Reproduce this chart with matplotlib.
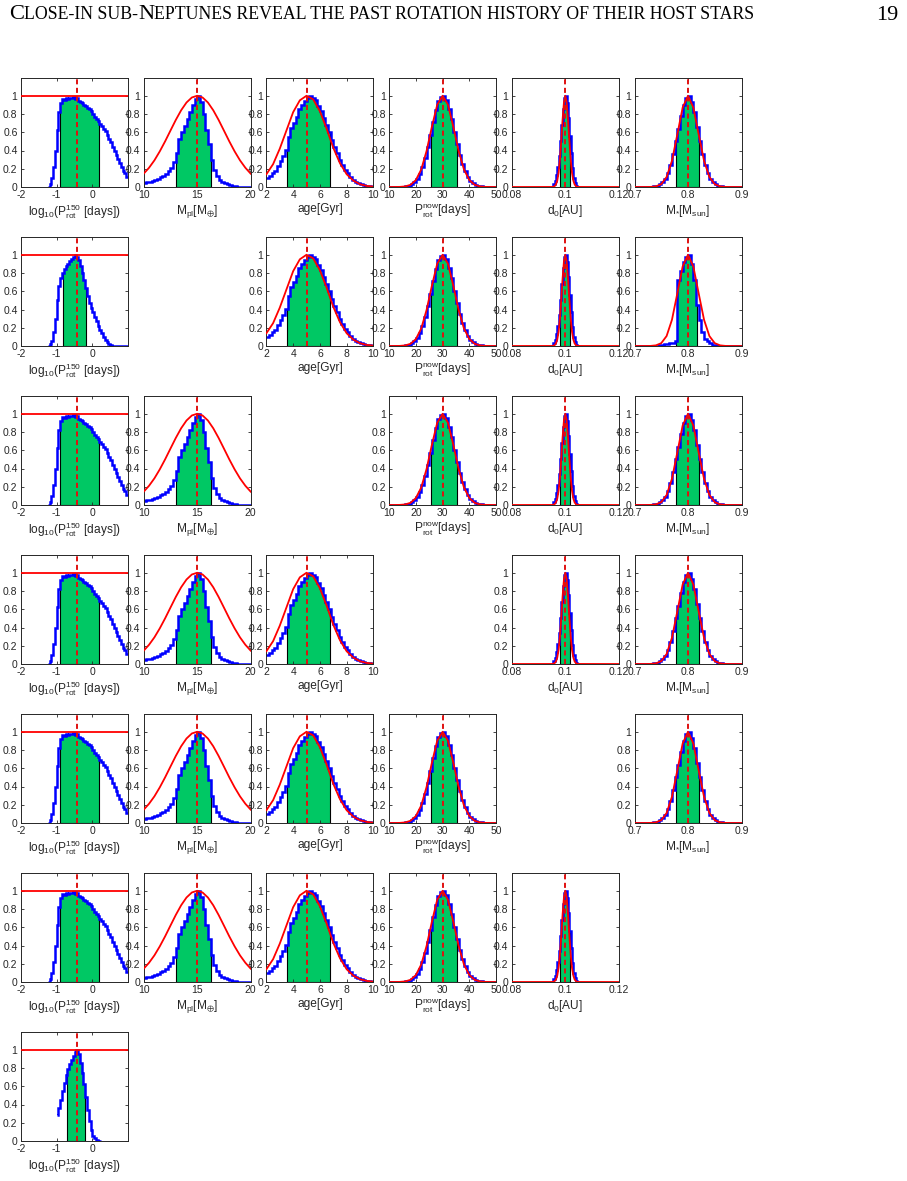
import numpy as np
from matplotlib import pyplot as plt
from matplotlib.offsetbox import TextArea, HPacker, AnchoredOffsetbox
from matplotlib.ticker import FormatStrFormatter

plt.rcParams['font.family'] = ['Liberation Sans', 'DejaVu Sans']
plt.rcParams['axes.unicode_minus'] = False

# ---- posterior histograms (normalised to peak = 1) ----
logp_edges = np.linspace(-1.25, 1.0, 46)
logp_hist = [0.0, 0.03, 0.10, 0.22, 0.40, 0.62, 0.82, 0.92, 0.96, 0.95,
             0.97, 0.96, 0.98, 0.97, 0.99, 0.96, 0.97, 0.94, 0.93, 0.92,
             0.90, 0.89, 0.87, 0.85, 0.83, 0.80, 0.77, 0.75, 0.72, 0.69,
             0.67, 0.64, 0.61, 0.57, 0.53, 0.49, 0.44, 0.40, 0.35, 0.31,
             0.26, 0.22, 0.18, 0.15, 0.11]
logp2_hist = [0.0, 0.02, 0.06, 0.15, 0.30, 0.50, 0.66, 0.75, 0.80, 0.84,
              0.88, 0.90, 0.93, 0.95, 0.98, 1.0, 0.98, 0.94, 0.88, 0.80,
              0.72, 0.64, 0.55, 0.47, 0.42, 0.37, 0.32, 0.27, 0.22, 0.18,
              0.14, 0.10, 0.07, 0.04, 0.02, 0.01, 0.005, 0.002, 0.0, 0.0,
              0.0, 0.0, 0.0, 0.0, 0.0]
logp7_edges = np.linspace(-1.0, 0.25, 26)
logp7_hist = [0.28, 0.36, 0.45, 0.55, 0.64, 0.72, 0.79, 0.84, 0.89, 0.93,
              0.97, 1.0, 0.95, 0.86, 0.75, 0.62, 0.48, 0.34, 0.22, 0.12,
              0.06, 0.03, 0.01, 0.005, 0.0]

mpl_edges = np.linspace(10, 20, 41)
mpl_hist = [0.04, 0.05, 0.06, 0.07, 0.08, 0.09, 0.11, 0.12, 0.14, 0.17,
            0.21, 0.27, 0.37, 0.53, 0.60, 0.67, 0.74, 0.82, 0.90, 0.96,
            1.0, 0.93, 0.80, 0.63, 0.47, 0.30, 0.19, 0.12, 0.08, 0.06,
            0.04, 0.03, 0.02, 0.015, 0.01, 0.005, 0.0, 0.0, 0.0, 0.0]

age_edges = np.linspace(2, 10, 41)
age_hist = [0.10, 0.12, 0.15, 0.18, 0.23, 0.28, 0.34, 0.41, 0.55, 0.65,
            0.70, 0.77, 0.86, 0.90, 0.94, 0.97, 1.0, 0.98, 0.95, 0.89,
            0.83, 0.76, 0.68, 0.60, 0.52, 0.44, 0.37, 0.30, 0.24, 0.19,
            0.15, 0.11, 0.08, 0.06, 0.04, 0.03, 0.02, 0.012, 0.007, 0.004]

pnow_edges = np.linspace(10, 50, 41)
pnow_hist = [0.0, 0.0, 0.0, 0.0, 0.002, 0.004, 0.008, 0.015, 0.03, 0.05,
             0.09, 0.14, 0.22, 0.32, 0.44, 0.57, 0.71, 0.84, 0.94, 0.99,
             1.0, 0.95, 0.86, 0.74, 0.60, 0.47, 0.35, 0.25, 0.17, 0.11,
             0.07, 0.045, 0.027, 0.016, 0.009, 0.005, 0.003, 0.001, 0.0, 0.0]

d0_edges = np.linspace(0.095, 0.105, 21)
d0_hist = [0.0, 0.03, 0.07, 0.13, 0.22, 0.34, 0.50, 0.68, 0.85, 0.97,
           1.0, 0.92, 0.76, 0.56, 0.37, 0.21, 0.10, 0.04, 0.015, 0.0]

mstar_edges = np.linspace(0.7, 0.9, 41)
mstar_hist = [0, 0, 0, 0, 0, 0.002, 0.004, 0.008, 0.015, 0.03,
              0.05, 0.09, 0.15, 0.24, 0.36, 0.50, 0.64, 0.78, 0.90, 0.98,
              1.0, 0.93, 0.82, 0.66, 0.50, 0.36, 0.24, 0.15, 0.09, 0.05,
              0.03, 0.015, 0.008, 0.004, 0.002, 0, 0, 0, 0, 0]
mstar2_hist = [0, 0, 0, 0, 0, 0, 0, 0, 0.005, 0.01,
               0.015, 0.02, 0.025, 0.03, 0.03, 0.05, 0.72, 0.82, 0.92, 0.98,
               1.0, 0.90, 0.72, 0.45, 0.28, 0.15, 0.08, 0.05, 0.03, 0.015,
               0.008, 0.003, 0, 0, 0, 0, 0, 0, 0, 0]

# ---- priors ----
logp_prior_level = 1.0
mpl_prior_x = np.linspace(10, 20, 21)
mpl_prior = [0.146, 0.211, 0.292, 0.390, 0.500, 0.618, 0.735, 0.841, 0.926, 0.981, 1.0,
             0.981, 0.926, 0.841, 0.735, 0.618, 0.500, 0.390, 0.292, 0.211, 0.146]
age_prior_x = np.linspace(2, 10, 17)
age_prior = [0.14, 0.25, 0.42, 0.62, 0.82, 0.95, 1.0, 0.96, 0.83,
             0.64, 0.43, 0.26, 0.14, 0.07, 0.03, 0.012, 0.004]
pnow_prior_x = np.linspace(10, 50, 21)
pnow_prior = [0, 0.0002, 0.0013, 0.0063, 0.024, 0.076, 0.191, 0.394, 0.661, 0.902, 1.0,
              0.902, 0.661, 0.394, 0.191, 0.076, 0.024, 0.0063, 0.0013, 0.0002, 0]
d0_prior_x = np.concatenate([[0.08], np.linspace(0.095, 0.105, 21), [0.12]])
d0_prior = [0, 0.0006, 0.0025, 0.0088, 0.027, 0.07, 0.157, 0.306, 0.514, 0.744, 0.929, 1.0,
            0.929, 0.744, 0.514, 0.306, 0.157, 0.07, 0.027, 0.0088, 0.0025, 0.0006, 0]
mstar_prior_x = np.linspace(0.7, 0.9, 21)
mstar_prior = [0, 0, 0.0001, 0.001, 0.007, 0.031, 0.109, 0.287, 0.575, 0.871, 1.0,
               0.871, 0.575, 0.287, 0.109, 0.031, 0.007, 0.001, 0.0001, 0, 0]

# ---- true values and 1-sigma intervals ----
truth = {'logp': -0.43, 'mpl': 15, 'age': 5, 'pnow': 30, 'd0': 0.1, 'mstar': 0.8}
interval = {'logp': (-0.91, 0.19), 'logp2': (-0.82, -0.17), 'logp7': (-0.72, -0.2),
            'mpl': (13.0, 16.25), 'age': (3.57, 6.77), 'pnow': (25.6, 35.3),
            'd0': (0.0982, 0.1018), 'mstar': (0.778, 0.821), 'mstar2': (0.778, 0.816)}

xlims = {'logp': (-2, 1), 'mpl': (10, 20), 'age': (2, 10), 'pnow': (10, 50),
         'd0': (0.08, 0.12), 'mstar': (0.7, 0.9)}
xticks = {'logp': [-2, -1, 0], 'mpl': [10, 15, 20], 'age': [2, 4, 6, 8, 10],
          'pnow': [10, 20, 30, 40, 50], 'd0': [0.08, 0.1, 0.12], 'mstar': [0.7, 0.8, 0.9]}
xlabels = {'logp': r'$\mathregular{log_{10}(P^{150}_{rot}\ [days])}$',
           'mpl': r'$\mathregular{M_{pl}[M_{\oplus}]}$',
           'age': 'age[Gyr]',
           'pnow': r'$\mathregular{P^{now}_{rot}[days]}$',
           'd0': r'$\mathregular{d_{0}[AU]}$',
           'mstar': r'$\mathregular{M_{*}[M_{sun}]}$'}

hists = {'logp': (logp_edges, logp_hist), 'logp2': (logp_edges, logp2_hist),
         'logp7': (logp7_edges, logp7_hist), 'mpl': (mpl_edges, mpl_hist),
         'age': (age_edges, age_hist), 'pnow': (pnow_edges, pnow_hist),
         'd0': (d0_edges, d0_hist), 'mstar': (mstar_edges, mstar_hist),
         'mstar2': (mstar_edges, mstar2_hist)}
priors = {'mpl': (mpl_prior_x, mpl_prior), 'age': (age_prior_x, age_prior),
          'pnow': (pnow_prior_x, pnow_prior), 'd0': (d0_prior_x, d0_prior),
          'mstar': (mstar_prior_x, mstar_prior)}

# which panel sits in each row (None = empty slot)
grid = [['logp', 'mpl', 'age', 'pnow', 'd0', 'mstar'],
        ['logp2', None, 'age', 'pnow', 'd0', 'mstar2'],
        ['logp', 'mpl', None, 'pnow', 'd0', 'mstar'],
        ['logp', 'mpl', 'age', None, 'd0', 'mstar'],
        ['logp', 'mpl', 'age', 'pnow', None, 'mstar'],
        ['logp', 'mpl', 'age', 'pnow', 'd0', None],
        ['logp7', None, None, None, None, None]]

green = '#00c864'
axcol = '#262626'

W, H = 907, 1181
fig = plt.figure(figsize=(W / 100, H / 100), dpi=100)


def draw_panel(ax, key):
    base = key.rstrip('27')
    edges, hist = hists[key]
    edges = np.asarray(edges)
    hist = np.asarray(hist, dtype=float)
    lo, hi = interval[key]
    inner = edges[(edges > lo) & (edges < hi)]
    xs = np.concatenate([[lo], inner, [hi]])
    idx = np.clip(np.searchsorted(edges, xs[:-1], side='right') - 1, 0, len(hist) - 1)
    ys = hist[idx]
    ys = np.append(ys, ys[-1])
    ax.fill_between(xs, ys, step='post', color=green, lw=0, zorder=1)
    ax.plot([lo, lo], [0, ys[0]], color='k', lw=0.8, zorder=1.5)
    ax.plot([hi, hi], [0, ys[-1]], color='k', lw=0.8, zorder=1.5)
    ax.plot([lo, hi], [0, 0], color='k', lw=0.8, zorder=1.5)
    ax.stairs(hist, edges, baseline=None, color='#0000ff', lw=1.8, zorder=2)
    if base == 'logp':
        ax.axhline(logp_prior_level, color='#ff0000', lw=1.3, zorder=3)
    else:
        px, py = priors[base]
        ax.plot(px, py, color='#ff0000', lw=1.3, zorder=3)
    ax.axvline(truth[base], color='#e01010', lw=1.4, ls=(0, (2.6, 1.8)), zorder=4)

    ax.set_xlim(*xlims[base])
    ax.set_ylim(0, 1.2)
    ax.set_xticks(xticks[base])
    ax.set_yticks([0, 0.2, 0.4, 0.6, 0.8, 1])
    ax.xaxis.set_major_formatter(FormatStrFormatter('%g'))
    ax.yaxis.set_major_formatter(FormatStrFormatter('%g'))
    ax.tick_params(direction='in', length=2.2, width=0.6, top=True, right=True,
                   labelsize=7.5, colors=axcol, pad=2.5)
    for s in ax.spines.values():
        s.set_color(axcol)
        s.set_linewidth(0.7)
    ax.set_xlabel(xlabels[base], fontsize=8.6, color=axcol, labelpad=1.5)


col_left, col_step, ax_w = 21, 122.7, 107
row_bottom, row_step, ax_h = 187, 159, 109.5
for r, row in enumerate(grid):
    for c, key in enumerate(row):
        if key is None:
            continue
        left = col_left + c * col_step
        bottom = row_bottom + r * row_step
        ax = fig.add_axes([left / W, 1 - bottom / H, ax_w / W, ax_h / H])
        draw_panel(ax, key)

# running head in small caps
big, small = 16.2, 12.8
pieces = [('C', big), ('LOSE-IN SUB-', small), ('N', big),
          ('EPTUNES REVEAL THE PAST ROTATION HISTORY OF THEIR HOST STARS', small)]
boxes = [TextArea(t, textprops=dict(fontsize=s, family='Liberation Serif', color='k'))
         for t, s in pieces]
head = HPacker(children=boxes, align='baseline', pad=0, sep=0)
anchored = AnchoredOffsetbox(loc='lower left', child=head, frameon=False, pad=0, borderpad=0,
                             bbox_to_anchor=(9 / W, 1 - 24 / H),
                             bbox_transform=fig.transFigure)
fig.add_artist(anchored)
fig.text(898 / W, 1 - 20 / H, '19', ha='right', va='baseline', fontsize=16,
         family='Liberation Serif')

fig.savefig('out.png', dpi=100, facecolor='white')
